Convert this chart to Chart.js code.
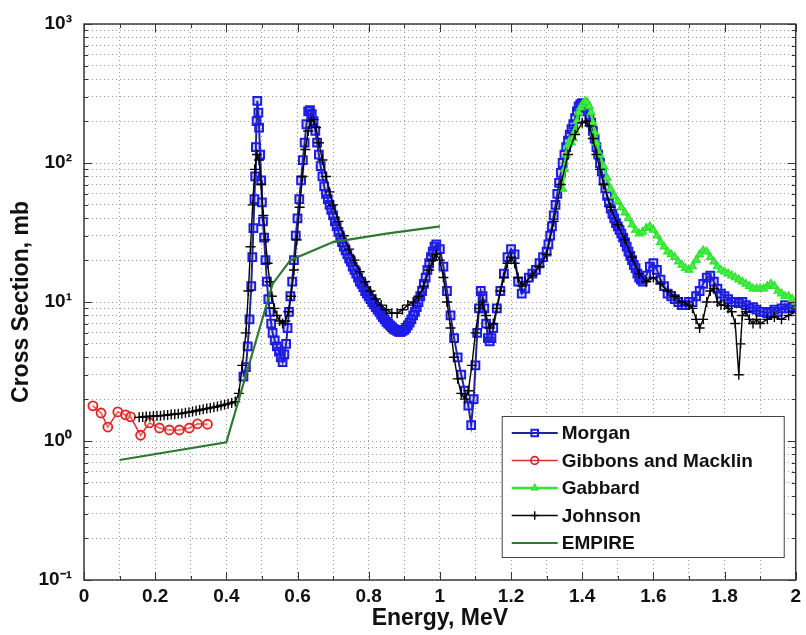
<!DOCTYPE html>
<html lang="en">
<head>
<meta charset="UTF-8" />
<title>Cross Section vs Energy</title>
<script src="https://cdn.jsdelivr.net/npm/chart.js"></script>
<style>
  html, body { margin: 0; padding: 0; background: #fff; }
  #wrap { width: 806px; height: 635px; }
</style>
</head>
<body>
<div id="wrap"><canvas id="xsChart" width="806" height="635"></canvas></div>
<script>
// ---- data: [energy MeV, cross section mb] ----
const morgan = [
  [0.448,2.9],[0.455,3.4],[0.460,4.8],[0.465,7.5],[0.470,13],[0.473,21],[0.476,34],[0.479,55],
  [0.481,80],[0.483,130],[0.485,200],[0.487,280],[0.490,230],[0.492,180],[0.495,115],[0.498,75],
  [0.500,52],[0.503,38],[0.506,29],[0.510,20],[0.514,14],[0.518,10.5],[0.522,8.5],[0.526,7],
  [0.530,6],[0.536,5.3],[0.542,4.8],[0.548,4.4],[0.553,4],[0.558,3.7],[0.563,4.2],[0.568,5],
  [0.572,6.5],[0.576,8.5],[0.580,11],[0.585,14],[0.590,20],[0.595,30],[0.600,40],[0.605,55],
  [0.610,75],[0.615,105],[0.620,140],[0.625,190],[0.630,235],[0.635,240],[0.640,225],[0.645,200],
  [0.650,170],[0.655,140],[0.660,115],[0.665,95],[0.670,80],[0.675,68],[0.680,60],[0.685,55],
  [0.690,50],[0.695,46],[0.700,42],[0.705,38],[0.710,35],[0.715,32],[0.720,29],[0.725,27],
  [0.730,25],[0.735,23.5],[0.740,22],[0.745,20.5],[0.750,19.5],[0.755,18],[0.760,17],[0.765,16],
  [0.770,15],[0.775,14],[0.780,13.5],[0.785,12.8],[0.790,12],[0.795,11.5],[0.800,11],[0.805,10.5],
  [0.810,10],[0.815,9.6],[0.820,9.2],[0.825,8.8],[0.830,8.5],[0.835,8.1],[0.840,7.8],[0.845,7.5],
  [0.850,7.2],[0.855,7],[0.860,6.8],[0.865,6.6],[0.870,6.4],[0.875,6.3],[0.880,6.2],[0.885,6.1],
  [0.890,6.1],[0.895,6.2],[0.900,6.3],[0.905,6.5],[0.910,6.8],[0.915,7.1],[0.920,7.5],[0.925,8],
  [0.930,8.5],[0.935,9.2],[0.940,10],[0.945,11],[0.950,12],[0.955,13.5],[0.960,15],[0.965,17],
  [0.970,19],[0.975,21],[0.980,23],[0.985,25],[0.990,26],[1.000,24],
  [1.010,18],[1.020,12],[1.030,8],[1.040,5.5],[1.050,4],[1.060,3],[1.070,2.3],[1.080,1.8],
  [1.088,1.3],[1.095,2],[1.100,3.5],[1.105,6],[1.110,9],[1.115,12],[1.120,11],[1.125,9],
  [1.130,7],[1.135,5.5],[1.140,5.2],[1.145,5.5],[1.150,6.5],[1.160,9],[1.170,12],[1.180,16],
  [1.190,21],[1.200,24],[1.210,22],[1.220,14],[1.230,11.5],[1.240,12.5],[1.250,15],[1.260,16],
  [1.270,17],[1.280,19],[1.290,21],[1.300,23],[1.305,26],[1.310,30],[1.315,35],[1.320,42],
  [1.325,50],[1.330,60],[1.335,72],[1.340,85],[1.345,100],[1.350,115],[1.355,130],[1.360,145],
  [1.365,160],[1.370,175],[1.375,190],[1.380,210],[1.385,235],[1.390,255],[1.395,265],[1.400,270],
  [1.405,262],[1.410,250],[1.415,235],[1.420,215],[1.425,195],[1.430,170],[1.435,150],[1.440,130],
  [1.445,115],[1.450,100],[1.455,87],[1.460,75],[1.465,66],[1.470,58],[1.475,52],[1.480,47],
  [1.485,43],[1.490,40],[1.495,37],[1.500,35],[1.505,33],[1.510,31],[1.515,29],[1.520,27],
  [1.525,25],[1.530,23],[1.535,21.5],[1.540,20],[1.545,18.5],[1.550,17.5],[1.555,16],[1.560,15],
  [1.565,14.5],[1.570,14],[1.580,15.5],
  [1.590,18],[1.600,19],[1.610,17],[1.620,14.5],[1.630,13],[1.640,11.5],[1.650,11],[1.660,10.5],
  [1.670,10],[1.680,9.5],[1.690,9.5],[1.700,10],[1.710,10],[1.720,11],[1.730,12],[1.740,13.5],
  [1.750,15],[1.760,15.5],[1.770,14],[1.780,12.5],[1.790,11.5],[1.800,11],[1.810,10.5],[1.820,10],
  [1.830,10],[1.840,9.8],[1.850,10],[1.860,9.5],[1.870,9],[1.880,9.2],[1.890,8.8],[1.900,8.5],
  [1.910,8.5],[1.920,8.3],[1.930,8.5],[1.940,8.8],[1.950,8.5],[1.960,9],[1.970,9.5],[1.980,9],
  [1.990,9.2],[2.000,9.5]
];

const gibbons = [
  [0.025,1.79],[0.048,1.59],[0.067,1.26],[0.095,1.62],[0.117,1.54],[0.131,1.49],[0.159,1.1],
  [0.184,1.35],[0.212,1.24],[0.240,1.2],[0.268,1.2],[0.296,1.24],[0.319,1.33],[0.347,1.32]
];

const gabbard = [
  [1.345,65],[1.350,90],[1.355,115],[1.360,135],[1.365,145],[1.370,140],[1.375,150],[1.380,170],
  [1.385,200],[1.390,230],[1.395,250],[1.400,262],[1.405,272],[1.410,278],[1.415,272],[1.420,255],
  [1.425,230],[1.430,195],[1.435,165],[1.440,140],[1.450,115],[1.460,95],[1.470,78],[1.480,65],
  [1.490,58],[1.500,53],[1.510,48],[1.520,44],[1.530,40],[1.540,36],[1.550,33],[1.560,31],
  [1.570,32],[1.580,34],[1.590,35],[1.600,33],[1.610,30],[1.620,27],[1.630,25],[1.640,23],
  [1.650,22],[1.660,21],[1.670,19.5],[1.680,18.5],[1.690,17.5],[1.700,17],[1.710,18],[1.720,20],
  [1.730,22],[1.740,23.5],[1.750,23],[1.760,21],[1.770,19.5],[1.780,18],[1.790,17],[1.800,16.5],
  [1.810,16],[1.820,15.5],[1.830,15],[1.840,14.5],[1.850,14],[1.860,13.5],[1.870,13],[1.880,12.5],
  [1.890,12.5],[1.900,12.5],[1.910,12.5],[1.920,13],[1.930,13.5],[1.940,13],[1.950,12],[1.960,11.5],
  [1.970,11],[1.980,11],[1.990,10.5],[2.000,10]
];

const johnson = [
  [0.155,1.48],[0.165,1.49],[0.175,1.5],[0.185,1.5],[0.195,1.51],[0.205,1.52],[0.215,1.52],
  [0.225,1.53],[0.235,1.54],[0.245,1.55],[0.255,1.56],[0.265,1.57],[0.275,1.58],[0.285,1.6],
  [0.295,1.61],[0.305,1.63],[0.315,1.65],[0.325,1.67],[0.335,1.69],[0.345,1.71],[0.355,1.73],
  [0.365,1.75],[0.375,1.77],[0.385,1.8],[0.395,1.82],[0.405,1.85],[0.415,1.88],[0.425,1.92],
  [0.435,2.2],[0.445,3.5],[0.455,6],[0.462,12],[0.468,25],[0.474,50],[0.480,90],[0.486,115],
  [0.492,105],[0.498,70],[0.504,42],[0.510,28],[0.516,19],[0.522,14],[0.528,11],[0.535,9],
  [0.542,8],[0.550,7.3],[0.558,7],[0.566,7.3],[0.574,8.5],[0.582,11],[0.590,17],[0.598,28],
  [0.606,48],[0.614,80],[0.622,125],[0.630,170],[0.638,200],[0.645,205],[0.652,180],[0.660,140],
  [0.670,105],[0.680,80],[0.690,62],[0.700,50],[0.715,38],[0.730,30],[0.745,24],[0.760,20],
  [0.775,16.5],[0.790,14],[0.805,12],[0.820,10.5],[0.835,9.5],[0.850,8.8],[0.865,8.3],[0.880,8.3],
  [0.895,8.8],[0.910,9.5],[0.925,10],[0.940,11],[0.955,13],[0.970,17],[0.980,20],[0.990,22],
  [1.000,20],[1.010,15],[1.020,10],[1.030,6.5],[1.040,4],[1.050,2.8],[1.060,2.2],[1.070,2],
  [1.080,2.3],[1.090,3.5],[1.100,6],[1.110,9],[1.120,10],[1.130,8],[1.140,6.5],[1.150,7],
  [1.160,9],[1.170,12],[1.180,15],[1.190,19],[1.200,21],[1.210,19],[1.220,15],[1.230,13],
  [1.240,14],[1.260,15.5],[1.280,18],[1.300,22],[1.320,38],[1.340,70],[1.360,115],[1.380,160],
  [1.400,195],[1.410,200],[1.420,185],[1.430,150],[1.440,115],[1.450,90],[1.460,70],[1.480,48],
  [1.500,36],[1.520,28],[1.540,21],[1.560,16],[1.580,14],[1.600,15],[1.620,13.5],[1.640,12],
  [1.660,11],[1.680,10],[1.700,9.5],[1.710,9],[1.720,7.5],[1.730,6.5],[1.740,7.5],[1.750,10],
  [1.760,12],[1.770,12.5],[1.780,10],[1.790,9.5],[1.800,9.5],[1.810,9],[1.820,8.5],[1.830,7],
  [1.840,3],[1.845,5],[1.850,8],[1.860,8.5],[1.870,7.5],[1.880,7],[1.890,7.5],[1.900,7],
  [1.920,7.5],[1.940,7.8],[1.960,7.5],[1.980,8],[2.000,8.5]
];

const empire = [[0.1,0.73],[0.4,0.98],[0.53,13.5],[0.58,20],[0.7,27],[0.85,31],[1.0,35]];

const seriesNames = ['Morgan', 'Gibbons and Macklin', 'Gabbard', 'Johnson', 'EMPIRE'];
const xTickLabels = ['0', '0.2', '0.4', '0.6', '0.8', '1', '1.2', '1.4', '1.6', '1.8', '2'];
const yDecades = [0.1, 1, 10, 100, 1000];
const yTickLabels = ['10\u207B\u00B9', '10\u2070', '10\u00B9', '10\u00B2', '10\u00B3'];

const pts = arr => arr.map(p => ({ x: p[0], y: p[1] }));
const FONT = 'Liberation Sans, Arial, Helvetica, sans-serif';

// draws a single marker like the chart's own points (used in the legend)
function drawMarker(ctx, style, x, y, r) {
    ctx.beginPath();
    if (style === 'rect') {
        const s = r * Math.SQRT1_2;
        ctx.rect(x - s, y - s, 2 * s, 2 * s);
    } else if (style === 'circle') {
        ctx.arc(x, y, r, 0, Math.PI * 2);
    } else if (style === 'triangle') {
        ctx.moveTo(x, y - r);
        ctx.lineTo(x + r * 0.87, y + r * 0.5);
        ctx.lineTo(x - r * 0.87, y + r * 0.5);
        ctx.closePath();
        ctx.fill();
    } else if (style === 'cross') {
        ctx.moveTo(x - r, y); ctx.lineTo(x + r, y);
        ctx.moveTo(x, y - r); ctx.lineTo(x, y + r);
    }
    ctx.stroke();
}

// box around the axes, inward ticks, and legend in lower right
const framePlugin = {
    id: 'frame',
    afterDraw(chart) {
        const { ctx, chartArea: a, scales } = chart;
        const xs = scales.x, ys = scales.y;
        ctx.save();

        ctx.strokeStyle = '#333';
        ctx.lineWidth = 1;
        ctx.beginPath();
        xs.ticks.forEach((t, i) => {
            const px = Math.round(xs.getPixelForValue(t.value)) + 0.5;
            const len = i % 2 === 0 ? 8 : 4;
            ctx.moveTo(px, a.bottom); ctx.lineTo(px, a.bottom - len);
            ctx.moveTo(px, a.top); ctx.lineTo(px, a.top + len);
        });
        ys.ticks.forEach(t => {
            const py = Math.round(ys.getPixelForValue(t.value)) + 0.5;
            const len = yDecades.includes(t.value) ? 8 : 4;
            ctx.moveTo(a.left, py); ctx.lineTo(a.left + len, py);
            ctx.moveTo(a.right, py); ctx.lineTo(a.right - len, py);
        });
        ctx.stroke();

        ctx.lineWidth = 1.5;
        ctx.strokeStyle = '#3a3a3a';
        ctx.strokeRect(a.left, a.top, a.right - a.left, a.bottom - a.top);

        // legend
        const lx = a.right - 294, ly = a.top + 392, lw = 282, lh = 141;
        ctx.fillStyle = '#fff';
        ctx.fillRect(lx, ly, lw, lh);
        ctx.lineWidth = 1;
        ctx.strokeStyle = '#444';
        ctx.strokeRect(lx + 0.5, ly + 0.5, lw, lh);
        ctx.font = 'bold 19px ' + FONT;
        ctx.textBaseline = 'middle';
        ctx.textAlign = 'left';
        chart.data.datasets.forEach((ds, i) => {
            const y = ly + 17 + i * 27.5;
            ctx.strokeStyle = ds.borderColor;
            ctx.lineWidth = ds.borderWidth;
            ctx.beginPath();
            ctx.moveTo(lx + 10, y); ctx.lineTo(lx + 56, y);
            ctx.stroke();
            if (ds.pointRadius > 0) {
                ctx.strokeStyle = ds.pointBorderColor;
                ctx.fillStyle = ds.pointBackgroundColor;
                ctx.lineWidth = ds.pointBorderWidth;
                drawMarker(ctx, ds.pointStyle, lx + 33, y, ds.pointRadius * 0.85);
            }
            ctx.fillStyle = '#111';
            ctx.fillText(ds.label, lx + 60, y + 1);
        });
        ctx.restore();
    }
};

new Chart(document.getElementById('xsChart'), {
    type: 'line',
    data: {
        datasets: [
            {
                label: seriesNames[0], data: pts(morgan), order: 5,
                borderColor: '#24248f', borderWidth: 2,
                pointStyle: 'rect', pointRadius: 5.5, pointBorderWidth: 2,
                pointBorderColor: '#1c1ce6', pointBackgroundColor: 'rgba(40,40,230,0.2)'
            },
            {
                label: seriesNames[1], data: pts(gibbons), order: 4,
                borderColor: '#d83030', borderWidth: 1.5,
                pointStyle: 'circle', pointRadius: 4.5, pointBorderWidth: 1.8,
                pointBorderColor: '#dd2626', pointBackgroundColor: 'rgba(255,200,200,0.3)'
            },
            {
                label: seriesNames[2], data: pts(gabbard), order: 3,
                borderColor: '#33e633', borderWidth: 2.5,
                pointStyle: 'triangle', pointRadius: 4.5, pointBorderWidth: 1.2,
                pointBorderColor: '#2fe02f', pointBackgroundColor: '#44f044'
            },
            {
                label: seriesNames[3], data: pts(johnson), order: 2,
                borderColor: '#000', borderWidth: 1.4,
                pointStyle: 'cross', pointRadius: 5, pointBorderWidth: 1.4,
                pointBorderColor: '#000', pointBackgroundColor: '#000'
            },
            {
                label: seriesNames[4], data: pts(empire), order: 1,
                borderColor: '#2e7a2e', borderWidth: 2.2,
                pointRadius: 0, pointBorderWidth: 0,
                pointBorderColor: '#2e7a2e', pointBackgroundColor: '#2e7a2e'
            }
        ]
    },
    options: {
        responsive: false,
        animation: false,
        layout: { padding: { top: 24, right: 7, left: 0, bottom: 0 } },
        plugins: { legend: { display: false }, tooltip: { enabled: false } },
        elements: { line: { tension: 0 } },
        scales: {
            x: {
                type: 'linear', min: 0, max: 2,
                afterBuildTicks: s => {
                    s.ticks = [];
                    for (let i = 0; i <= 20; i++) s.ticks.push({ value: i / 10 });
                },
                afterFit: s => { s.height = 55; },
                grid: { color: '#9a9a9a', lineWidth: 1, drawTicks: false },
                border: { display: false, dash: [1, 3] },
                ticks: {
                    autoSkip: false, maxRotation: 0, padding: 5, color: '#111',
                    font: { family: FONT, size: 19, weight: 'bold' },
                    callback: v => {
                        const i = Math.round(v * 10);
                        return i % 2 === 0 ? xTickLabels[i / 2] : '';
                    }
                },
                title: {
                    display: true, text: 'Energy, MeV', color: '#111',
                    font: { family: FONT, size: 23, weight: 'bold' },
                    padding: { top: 0, bottom: 3 }
                }
            },
            y: {
                type: 'logarithmic', min: 0.1, max: 1000,
                afterBuildTicks: s => {
                    s.ticks = [];
                    yDecades.slice(0, -1).forEach(d => {
                        for (let k = 1; k <= 9; k++) s.ticks.push({ value: d * k });
                    });
                    s.ticks.push({ value: yDecades[yDecades.length - 1] });
                },
                afterFit: s => { s.width = 84; },
                grid: { color: '#9a9a9a', lineWidth: 1, drawTicks: false },
                border: { display: false, dash: [1, 3] },
                ticks: {
                    autoSkip: false, padding: 12, color: '#111',
                    font: { family: FONT, size: 19, weight: 'bold' },
                    callback: v => {
                        const i = yDecades.indexOf(v);
                        return i >= 0 ? yTickLabels[i] : '';
                    }
                },
                title: {
                    display: true, text: 'Cross Section, mb', color: '#111',
                    font: { family: FONT, size: 23, weight: 'bold' },
                    padding: { top: 8, bottom: 0 }
                }
            }
        }
    },
    plugins: [framePlugin]
});
</script>
</body>
</html>
